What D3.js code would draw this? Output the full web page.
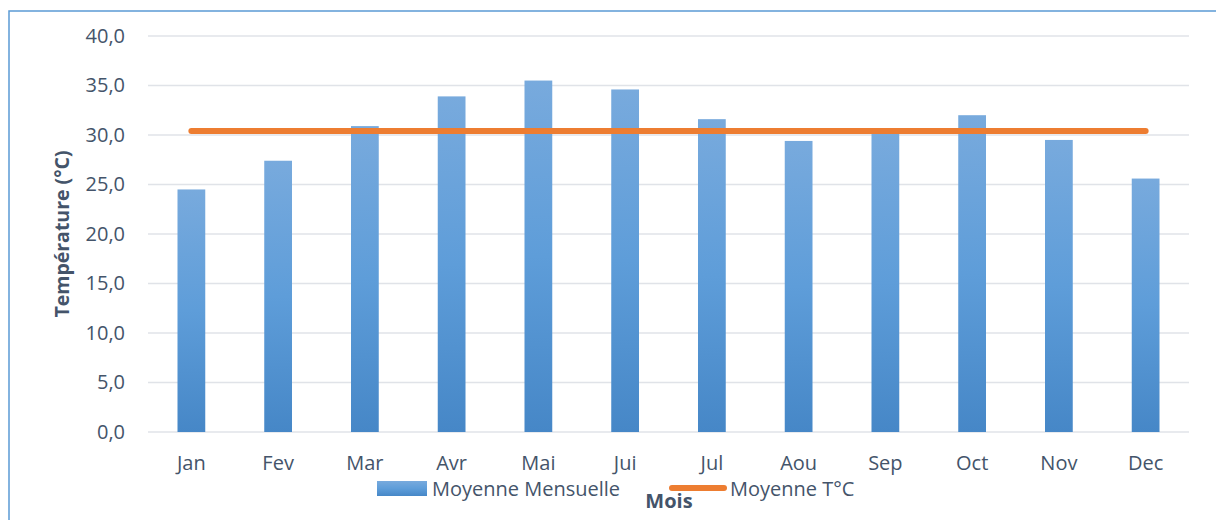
<!DOCTYPE html>
<html>
<head>
<meta charset="utf-8">
<script src="https://cdn.jsdelivr.net/npm/d3@7"></script>
<style>
  body { margin: 0; background: #fff; }
  text { font-family: "Open Sans", sans-serif; fill: #44546a; }
</style>
</head>
<body>
<svg id="chart" width="1216" height="520"></svg>
<script>
// months and values
var months = ['Jan', 'Fev', 'Mar', 'Avr', 'Mai', 'Jui', 'Jul', 'Aou', 'Sep', 'Oct', 'Nov', 'Dec']
var monthlyMean = [24.5, 27.4, 30.9, 33.9, 35.5, 34.6, 31.6, 29.4, 30.1, 32.0, 29.5, 25.6]
var yearMean = [30.4, 30.4, 30.4, 30.4, 30.4, 30.4, 30.4, 30.4, 30.4, 30.4, 30.4, 30.4]
var yTicks = [0, 5, 10, 15, 20, 25, 30, 35, 40]

var svg = d3.select('#chart')

var padding = {l: 148, r: 27, t: 36, b: 88}
var svgWidth = +svg.attr('width')
var svgHeight = +svg.attr('height')
var chartBottom = svgHeight - padding.b

// outer frame, only left and top edges are visible
svg.append('rect')
  .attr('x', 9).attr('y', 11)
  .attr('width', 1400).attr('height', 700)
  .style('fill', 'none')
  .style('stroke', '#5b9bd5')
  .style('stroke-width', 1.5)

var defs = svg.append('defs')
var grad = defs.append('linearGradient')
  .attr('id', 'barGrad')
  .attr('x1', 0).attr('y1', 0).attr('x2', 0).attr('y2', 1)
grad.append('stop').attr('offset', '0%').attr('stop-color', '#78aadd')
grad.append('stop').attr('offset', '50%').attr('stop-color', '#5e9dd9')
grad.append('stop').attr('offset', '100%').attr('stop-color', '#4687c7')

var xScale = d3.scaleBand()
  .domain(months)
  .range([padding.l, svgWidth - padding.r])
  .paddingInner(0.68)
  .paddingOuter(0.34)

var yScale = d3.scaleLinear()
  .domain([0, 40])
  .range([chartBottom, padding.t])

// gridlines
svg.append('g').selectAll('line')
  .data(yTicks)
  .enter()
  .append('line')
  .attr('x1', padding.l)
  .attr('x2', svgWidth - padding.r)
  .attr('y1', function(d) { return yScale(d) })
  .attr('y2', function(d) { return yScale(d) })
  .style('stroke', '#e0e3e8')
  .style('stroke-width', 1.5)

// y axis labels
var yAxis = d3.axisLeft(yScale)
  .tickValues(yTicks)
  .tickSize(0)
  .tickPadding(23)
  .tickFormat(function(d) { return d3.format('.1f')(d).replace('.', ',') })

svg.append('g')
  .attr('transform', 'translate(' + padding.l + ',0)')
  .call(yAxis)
  .call(function(g) { g.select('.domain').remove() })
  .selectAll('text')
  .style('font-size', '20px')
  .style('font-family', '"Open Sans", sans-serif')
  .style('fill', '#44546a')

// x axis labels
var xAxis = d3.axisBottom(xScale).tickSize(0).tickPadding(24)

svg.append('g')
  .attr('transform', 'translate(0,' + chartBottom + ')')
  .call(xAxis)
  .call(function(g) { g.select('.domain').remove() })
  .selectAll('text')
  .style('font-size', '20px')
  .style('font-family', '"Open Sans", sans-serif')
  .style('fill', '#44546a')

// bars
svg.append('g').selectAll('rect')
  .data(months)
  .enter()
  .append('rect')
  .attr('x', function(d) { return xScale(d) })
  .attr('width', xScale.bandwidth())
  .attr('y', function(d, i) { return yScale(monthlyMean[i]) })
  .attr('height', function(d, i) { return chartBottom - yScale(monthlyMean[i]) })
  .style('fill', 'url(#barGrad)')

// mean line
var line = d3.line()
  .x(function(d, i) { return xScale(months[i]) + xScale.bandwidth() / 2 })
  .y(function(d) { return yScale(d) })

svg.append('path')
  .datum(yearMean)
  .attr('d', line)
  .style('fill', 'none')
  .style('stroke', '#ed7d31')
  .style('stroke-width', 6)
  .style('stroke-linecap', 'round')

// axis titles
svg.append('text')
  .attr('transform', 'translate(69,' + ((padding.t + chartBottom) / 2) + ') rotate(-90)')
  .attr('text-anchor', 'middle')
  .style('font-size', '19.5px')
  .style('font-weight', 'bold')
  .text('Température (°C)')

svg.append('text')
  .attr('x', 669)
  .attr('y', 508)
  .attr('text-anchor', 'middle')
  .style('font-size', '20px')
  .style('font-weight', 'bold')
  .text('Mois')

// legend
var legend = svg.append('g')
legend.append('rect')
  .attr('x', 377).attr('y', 481)
  .attr('width', 50).attr('height', 15)
  .style('fill', 'url(#barGrad)')
legend.append('text')
  .attr('x', 432).attr('y', 496)
  .style('font-size', '20px')
  .text('Moyenne Mensuelle')
legend.append('line')
  .attr('x1', 672).attr('x2', 724)
  .attr('y1', 488).attr('y2', 488)
  .style('stroke', '#ed7d31')
  .style('stroke-width', 6)
  .style('stroke-linecap', 'round')
legend.append('text')
  .attr('x', 730).attr('y', 496)
  .style('font-size', '20px')
  .text('Moyenne T°C')
</script>
</body>
</html>
